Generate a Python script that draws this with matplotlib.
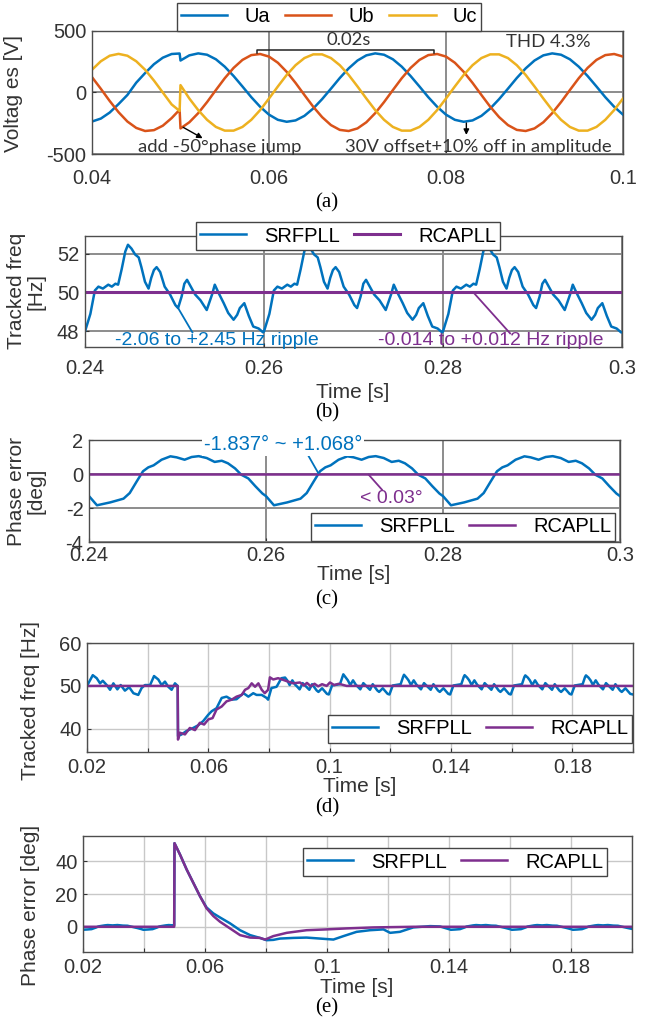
import numpy as np
import matplotlib
matplotlib.use('Agg')
import matplotlib.pyplot as plt

plt.rcParams['font.family'] = ['Liberation Sans', 'DejaVu Sans']

# ---------------------------------------------------------------- data
# (a) three phase voltages [V]
t_a = [0.040, 0.041, 0.042, 0.043, 0.044, 0.045, 0.046, 0.047, 0.048, 0.049, 0.0499,
       0.050, 0.051, 0.052, 0.053, 0.054, 0.055, 0.056, 0.057, 0.058, 0.059,
       0.060, 0.061, 0.062, 0.063, 0.064, 0.065, 0.066, 0.067, 0.068, 0.069,
       0.070, 0.071, 0.072, 0.073, 0.074, 0.075, 0.076, 0.077, 0.078, 0.079,
       0.080, 0.081, 0.082, 0.083, 0.084, 0.085, 0.086, 0.087, 0.088, 0.089,
       0.090, 0.091, 0.092, 0.093, 0.094, 0.095, 0.096, 0.097, 0.098, 0.099, 0.100]
ua = [-236, -212, -163, -94, -20, 80, 158, 230, 283, 313, 317,
      260, 302, 318, 307, 270, 210, 134, 49, -38, -116,
      -180, -222, -238, -227, -190, -130, -54, 31, 118, 196,
      260, 302, 318, 307, 270, 210, 134, 49, -38, -116,
      -180, -222, -238, -227, -190, -130, -54, 31, 118, 196,
      260, 302, 318, 307, 270, 210, 134, 49, -38, -116, -180]
ub = [125, 30, -69, -160, -236, -288, -313, -306, -270, -208, -140,
      -292, -242, -168, -78, 20, 116, 200, 265, 304, 313,
      292, 242, 168, 78, -20, -116, -200, -265, -304, -313,
      -292, -242, -168, -78, 20, 116, 200, 265, 304, 313,
      292, 242, 168, 78, -20, -116, -200, -265, -304, -313,
      -292, -242, -168, -78, 20, 116, 200, 265, 304, 313, 292]
uc = [185, 254, 299, 314, 299, 254, 185, 97, 0, -97, -150,
      60, -49, -143, -222, -280, -310, -310, -280, -222, -143,
      -49, 49, 143, 222, 280, 310, 310, 280, 222, 143,
      49, -49, -143, -222, -280, -310, -310, -280, -222, -143,
      -49, 49, 143, 222, 280, 310, 310, 280, 222, 143,
      49, -49, -143, -222, -280, -310, -310, -280, -222, -143, -49]

# (b) tracked frequency, steady state [Hz]
t_b = [0.2400, 0.2406, 0.2411, 0.2415, 0.2420, 0.2426, 0.2430, 0.2434, 0.2437, 0.2441, 0.2445,
       0.2448, 0.2452, 0.2456, 0.2460, 0.2463, 0.2467, 0.2471, 0.2474, 0.2477, 0.2480, 0.2484, 0.2489,
       0.2495, 0.2501, 0.2504, 0.2508, 0.2511, 0.2514, 0.2517, 0.2523, 0.2529, 0.2536, 0.2542, 0.2545,
       0.2549, 0.2555, 0.2560, 0.2566, 0.2570, 0.2573, 0.2578, 0.2583, 0.2588, 0.2594, 0.2599,
       0.2600, 0.2606, 0.2611, 0.2615, 0.2620, 0.2626, 0.2630, 0.2634, 0.2637, 0.2641, 0.2645,
       0.2648, 0.2652, 0.2656, 0.2660, 0.2663, 0.2667, 0.2671, 0.2674, 0.2677, 0.2680, 0.2684, 0.2689,
       0.2695, 0.2701, 0.2704, 0.2708, 0.2711, 0.2714, 0.2717, 0.2723, 0.2729, 0.2736, 0.2742, 0.2745,
       0.2749, 0.2755, 0.2760, 0.2766, 0.2770, 0.2773, 0.2778, 0.2783, 0.2788, 0.2794, 0.2799,
       0.2800, 0.2806, 0.2811, 0.2815, 0.2820, 0.2826, 0.2830, 0.2834, 0.2837, 0.2841, 0.2845,
       0.2848, 0.2852, 0.2856, 0.2860, 0.2863, 0.2867, 0.2871, 0.2874, 0.2877, 0.2880, 0.2884, 0.2889,
       0.2895, 0.2901, 0.2904, 0.2908, 0.2911, 0.2914, 0.2917, 0.2923, 0.2929, 0.2936, 0.2942, 0.2945,
       0.2949, 0.2955, 0.2960, 0.2966, 0.2970, 0.2973, 0.2978, 0.2983, 0.2988, 0.2994, 0.2999,
       0.3000]
srf_b = [48.00, 48.90, 50.10, 50.30, 50.20, 50.40, 50.30, 50.45, 50.40, 51.20, 52.10,
         52.45, 52.25, 51.95, 51.80, 51.30, 50.55, 50.20, 50.75, 51.15, 51.30, 51.05, 50.30,
         49.90, 49.35, 49.20, 49.80, 50.45, 50.65, 50.40, 49.90, 49.60, 49.10, 49.90, 50.40,
         50.00, 49.45, 48.95, 48.60, 48.85, 49.20, 49.45, 48.80, 48.25, 48.15, 47.95,
         48.00, 48.90, 50.10, 50.30, 50.20, 50.40, 50.30, 50.45, 50.40, 51.20, 52.10,
         52.45, 52.25, 51.95, 51.80, 51.30, 50.55, 50.20, 50.75, 51.15, 51.30, 51.05, 50.30,
         49.90, 49.35, 49.20, 49.80, 50.45, 50.65, 50.40, 49.90, 49.60, 49.10, 49.90, 50.40,
         50.00, 49.45, 48.95, 48.60, 48.85, 49.20, 49.45, 48.80, 48.25, 48.15, 47.95,
         48.00, 48.90, 50.10, 50.30, 50.20, 50.40, 50.30, 50.45, 50.40, 51.20, 52.10,
         52.45, 52.25, 51.95, 51.80, 51.30, 50.55, 50.20, 50.75, 51.15, 51.30, 51.05, 50.30,
         49.90, 49.35, 49.20, 49.80, 50.45, 50.65, 50.40, 49.90, 49.60, 49.10, 49.90, 50.40,
         50.00, 49.45, 48.95, 48.60, 48.85, 49.20, 49.45, 48.80, 48.25, 48.15, 47.95,
         47.95]
t_b_rca = [0.24, 0.30]
rca_b = [50.0, 50.0]

# (c) phase error, steady state [deg]
t_c = [0.2400, 0.2409, 0.2424, 0.2439, 0.2446, 0.2454, 0.2461, 0.2467, 0.2473, 0.2482, 0.2492, 0.2499,
       0.2508, 0.2516, 0.2524, 0.2533, 0.2542, 0.2550, 0.2557, 0.2565, 0.2572, 0.2580, 0.2588, 0.2596,
       0.2600, 0.2609, 0.2624, 0.2639, 0.2646, 0.2654, 0.2661, 0.2667, 0.2673, 0.2682, 0.2692, 0.2699,
       0.2708, 0.2716, 0.2724, 0.2733, 0.2742, 0.2750, 0.2757, 0.2765, 0.2772, 0.2780, 0.2788, 0.2796,
       0.2800, 0.2809, 0.2824, 0.2839, 0.2846, 0.2854, 0.2861, 0.2867, 0.2873, 0.2882, 0.2892, 0.2899,
       0.2908, 0.2916, 0.2924, 0.2933, 0.2942, 0.2950, 0.2957, 0.2965, 0.2972, 0.2980, 0.2988, 0.2996,
       0.3000]
srf_c = [-1.30, -1.84, -1.67, -1.45, -1.12, -0.43, 0.16, 0.39, 0.51, 0.84, 1.04, 0.98,
         0.84, 1.00, 1.05, 0.94, 0.71, 0.78, 0.63, 0.33, -0.04, -0.26, -0.72, -1.15,
         -1.30, -1.84, -1.67, -1.45, -1.12, -0.43, 0.16, 0.39, 0.51, 0.84, 1.04, 0.98,
         0.84, 1.00, 1.05, 0.94, 0.71, 0.78, 0.63, 0.33, -0.04, -0.26, -0.72, -1.15,
         -1.30, -1.84, -1.67, -1.45, -1.12, -0.43, 0.16, 0.39, 0.51, 0.84, 1.04, 0.98,
         0.84, 1.00, 1.05, 0.94, 0.71, 0.78, 0.63, 0.33, -0.04, -0.26, -0.72, -1.15,
         -1.30]
t_c_rca = [0.24, 0.30]
rca_c = [0.0, 0.0]

# (d) tracked frequency during the phase jump [Hz]
t_d = [0.0200, 0.0219, 0.0232, 0.0243, 0.0252, 0.0265, 0.0276, 0.0287, 0.0300, 0.0311, 0.0325,
       0.0339, 0.0353, 0.0369, 0.0380, 0.0391, 0.0408, 0.0421, 0.0435, 0.0446, 0.0457, 0.0468,
       0.0479, 0.0490, 0.0499,
       0.0500, 0.0512, 0.0528, 0.0550, 0.0566, 0.0583, 0.0600, 0.0611, 0.0627, 0.0644, 0.0660,
       0.0677, 0.0693, 0.0716, 0.0732, 0.0748, 0.0759, 0.0776, 0.0792, 0.0797, 0.0808, 0.0825,
       0.0841, 0.0853, 0.0860, 0.0868, 0.0877, 0.0886, 0.0892, 0.0901, 0.0911, 0.0926, 0.0933,
       0.0942, 0.0957, 0.0963, 0.0975, 0.0991,
       0.0997, 0.1008, 0.1017, 0.1027, 0.1034, 0.1042, 0.1045, 0.1053, 0.1060, 0.1068, 0.1077,
       0.1086, 0.1101, 0.1111, 0.1126, 0.1133, 0.1142, 0.1157, 0.1163, 0.1175, 0.1191,
       0.1197, 0.1208, 0.1217, 0.1227, 0.1234, 0.1242, 0.1245, 0.1253, 0.1260, 0.1268, 0.1277,
       0.1286, 0.1301, 0.1311, 0.1326, 0.1333, 0.1342, 0.1357, 0.1363, 0.1375, 0.1391,
       0.1397, 0.1408, 0.1417, 0.1427, 0.1434, 0.1442, 0.1445, 0.1453, 0.1460, 0.1468, 0.1477,
       0.1486, 0.1501, 0.1511, 0.1526, 0.1533, 0.1542, 0.1557, 0.1563, 0.1575, 0.1591,
       0.1597, 0.1608, 0.1617, 0.1627, 0.1634, 0.1642, 0.1645, 0.1653, 0.1660, 0.1668, 0.1677,
       0.1686, 0.1701, 0.1711, 0.1726, 0.1733, 0.1742, 0.1757, 0.1763, 0.1775, 0.1791,
       0.1797, 0.1808, 0.1817, 0.1827, 0.1834, 0.1842, 0.1845, 0.1853, 0.1860, 0.1868, 0.1877,
       0.1886, 0.1901, 0.1911, 0.1926, 0.1933, 0.1942, 0.1957, 0.1963, 0.1975, 0.1991, 0.2000]
srf_d = [50.0, 52.5, 51.8, 50.6, 51.2, 50.2, 49.1, 50.6, 49.2, 50.2, 48.9,
         49.7, 48.3, 47.9, 49.5, 50.2, 50.2, 52.3, 51.5, 50.2, 51.0, 49.8,
         49.1, 50.6, 50.0,
         38.3, 38.7, 39.5, 40.2, 40.8, 41.8, 43.3, 44.1, 44.8, 47.2, 47.5,
         46.8, 46.9, 48.3, 47.5, 48.3, 47.9, 47.9, 47.2, 46.8, 49.5, 49.8,
         51.8, 51.95, 51.3, 50.2, 51.3, 50.3, 49.9, 49.2, 50.65, 49.6, 49.1,
         50.4, 48.95, 48.6, 49.45, 48.15,
         48.0, 50.1, 50.2, 50.3, 50.4, 52.1, 52.7, 51.95, 51.3, 50.2, 51.3,
         50.3, 49.2, 50.65, 49.6, 49.1, 50.4, 48.95, 48.6, 49.45, 48.15,
         48.0, 50.1, 50.2, 50.3, 50.4, 52.1, 52.6, 51.95, 51.3, 50.2, 51.3,
         50.3, 49.2, 50.65, 49.6, 49.1, 50.4, 48.95, 48.6, 49.45, 48.15,
         48.0, 50.1, 50.2, 50.3, 50.4, 52.1, 52.5, 51.95, 51.3, 50.2, 51.3,
         50.3, 49.2, 50.65, 49.6, 49.1, 50.4, 48.95, 48.6, 49.45, 48.15,
         48.0, 50.1, 50.2, 50.3, 50.4, 52.1, 52.45, 51.95, 51.3, 50.2, 51.3,
         50.3, 49.2, 50.65, 49.6, 49.1, 50.4, 48.95, 48.6, 49.45, 48.15,
         48.0, 50.1, 50.2, 50.3, 50.4, 52.1, 52.45, 51.95, 51.3, 50.2, 51.3,
         50.3, 49.2, 50.65, 49.6, 49.1, 50.4, 48.95, 48.6, 49.45, 48.15, 48.0]
t_d_rca = [0.0200, 0.0499, 0.0500, 0.0506, 0.0523, 0.0539, 0.0556, 0.0572, 0.0586, 0.0600, 0.0614,
           0.0627, 0.0644, 0.0660, 0.0677, 0.0693, 0.0710, 0.0721, 0.0732, 0.0743, 0.0754, 0.0765,
           0.0776, 0.0786, 0.0797, 0.0803, 0.0814, 0.0830, 0.0847, 0.0863, 0.0880, 0.0902, 0.0915,
           0.0925, 0.0938, 0.0950, 0.0962, 0.0975, 0.0990, 0.1001, 0.1015, 0.1030, 0.1056, 0.1110,
           0.2000]
rca_d = [50.0, 50.0, 37.5, 39.1, 38.7, 40.2, 39.7, 41.4, 41.0, 42.2, 42.5,
         44.5, 45.2, 46.4, 46.8, 47.5, 47.9, 49.1, 49.5, 50.6, 49.8, 50.6,
         49.1, 48.3, 49.1, 52.0, 51.5, 51.8, 51.4, 51.0, 50.6, 50.8, 50.1,
         50.7, 49.9, 50.5, 49.9, 50.4, 50.0, 50.8, 50.2, 50.5, 50.0, 50.0,
         50.0]

# (e) phase error during the phase jump [deg]
t_e = [0.0200, 0.0213, 0.0228, 0.0243, 0.0250, 0.0256, 0.0271, 0.0281, 0.0297, 0.0313, 0.0331,
       0.0346, 0.0361, 0.0377, 0.0389, 0.0398, 0.0413, 0.0428, 0.0443, 0.0450, 0.0456, 0.0471,
       0.0481, 0.0497, 0.0499,
       0.0500, 0.0518, 0.0540, 0.0562, 0.0584, 0.0605, 0.0627, 0.0649, 0.0682, 0.0715, 0.0748,
       0.0780, 0.0802, 0.0824, 0.0846, 0.0890, 0.0933, 0.0977, 0.1021, 0.1054, 0.1097, 0.1141,
       0.1185, 0.1207, 0.1239, 0.1283, 0.1338, 0.1370,
       0.1397, 0.1406, 0.1421, 0.1436, 0.1451, 0.1458, 0.1479, 0.1489, 0.1505, 0.1521, 0.1539,
       0.1554, 0.1569, 0.1585,
       0.1597, 0.1606, 0.1621, 0.1636, 0.1651, 0.1658, 0.1679, 0.1689, 0.1705, 0.1721, 0.1739,
       0.1754, 0.1769, 0.1785,
       0.1797, 0.1806, 0.1821, 0.1836, 0.1851, 0.1858, 0.1879, 0.1889, 0.1905, 0.1921, 0.1939,
       0.1954, 0.1969, 0.1985, 0.2000]
srf_e = [-1.80, -1.67, -1.45, -0.43, 0.16, 0.39, 0.84, 1.04, 0.84, 1.05, 0.71,
         0.63, -0.04, -0.72, -1.30, -1.84, -1.67, -1.45, -0.43, 0.16, 0.39, 0.84,
         1.04, 0.84, 0.90,
         51.0, 44.1, 34.9, 26.7, 18.5, 11.8, 8.2, 5.7, 2.1, -2.1, -5.1,
         -6.8, -8.2, -8.0, -7.2, -6.8, -6.6, -7.2, -7.8, -5.7, -3.1, -2.1,
         -1.6, -3.7, -3.1, -0.4, 0.4, 0.2,
         -1.30, -1.84, -1.67, -1.45, -0.43, 0.16, 0.84, 1.04, 0.84, 1.05, 0.71,
         0.63, -0.04, -0.72,
         -1.30, -1.84, -1.67, -1.45, -0.43, 0.16, 0.84, 1.04, 0.84, 1.05, 0.71,
         0.63, -0.04, -0.72,
         -1.30, -1.84, -1.67, -1.45, -0.43, 0.16, 0.84, 1.04, 0.84, 1.05, 0.71,
         0.63, -0.04, -0.72, -1.30]
t_e_rca = [0.0200, 0.0499, 0.0500, 0.0518, 0.0540, 0.0562, 0.0584, 0.0605, 0.0627, 0.0649, 0.0682,
           0.0715, 0.0748, 0.0780, 0.0797, 0.0824, 0.0868, 0.0933, 0.0999, 0.1064, 0.1152, 0.1283,
           0.2000]
rca_e = [0.0, 0.0, 51.0, 44.1, 34.9, 26.7, 18.5, 11.3, 6.6, 3.1, -1.0,
         -5.1, -6.6, -6.8, -7.8, -5.7, -3.7, -2.1, -1.6, -1.0, -0.4, 0.0,
         0.0]

# ---------------------------------------------------------------- style
W, H = 645, 1021
BLUE = '#0072BD'
ORANGE = '#D95319'
YELLOW = '#EDB120'
PURPLE = '#7E2F8E'
TXT = '#333333'
LW = 1.8
FS_TICK = 14.5
FS_LAB = 15
FS_LEG = 14.5

fig = plt.figure(figsize=(W / 100, H / 100), dpi=100)


def place(left, right, top, bottom):
    # pixel box of the picture -> figure fraction
    return fig.add_axes([left / W, 1 - bottom / H, (right - left) / W, (bottom - top) / H])


def style(ax, grid_color, grid_lw, xpad=5):
    for sp in ax.spines.values():
        sp.set_color('#4d4d4d')
        sp.set_linewidth(1.0)
    ax.tick_params(direction='in', length=3, colors=TXT, labelsize=FS_TICK, pad=4)
    ax.tick_params(axis='x', pad=xpad)
    ax.grid(True, color=grid_color, lw=grid_lw)
    ax.set_axisbelow(True)


def ftext(x, y, s, **kw):
    fig.text(x / W, 1 - y / H, s, ha='center', va='center', **kw)


def legend(ax, cx, cy, ncol=2, hl=2.3, tp=0.9, cs=0.7):
    leg = ax.legend(loc='center', bbox_to_anchor=(cx / W, 1 - cy / H),
                    bbox_transform=fig.transFigure, ncol=ncol, fontsize=FS_LEG,
                    fancybox=False, framealpha=1, edgecolor='#444444',
                    handlelength=hl, handletextpad=tp, columnspacing=cs,
                    borderpad=0.2, borderaxespad=0)
    leg.get_frame().set_linewidth(1.0)
    return leg


# ---------------------------------------------------------------- (a)
axa = place(92, 623, 31, 154)
axa.plot(t_a, ua, color=BLUE, lw=LW, label='Ua')
axa.plot(t_a, ub, color=ORANGE, lw=LW, label='Ub')
axa.plot(t_a, uc, color=YELLOW, lw=LW, label='Uc')
axa.set_xlim(0.04, 0.1)
axa.set_ylim(-500, 500)
axa.set_xticks([0.04, 0.06, 0.08, 0.1], ['0.04', '0.06', '0.08', '0.1'])
axa.set_yticks([-500, 0, 500], ['-500', '0', '500'])
style(axa, '#8c8c8c', 1.4, xpad=11)
legend(axa, 329, 17, ncol=3, tp=0.85, cs=0.75)

ann = dict(family=['Lato', 'DejaVu Sans'], fontsize=13.3, color=TXT, ha='center', va='center')
axa.plot([0.0586, 0.0586, 0.0786, 0.0786], [318, 345, 345, 318], color='#222222', lw=1.1)
axa.text(0.0690, 425, '0.02s', **ann)
axa.text(0.0916, 410, 'THD 4.3%', **ann)
axa.text(0.0544, -440, 'add -50°phase jump', **ann)
axa.text(0.0837, -440, '30V offset+10% off in amplitude', **ann)
arr = dict(arrowstyle='-|>', color='black', lw=1.0, mutation_scale=8, shrinkA=0, shrinkB=0)
axa.annotate('', xy=(0.0525, -372), xytext=(0.0503, -283), arrowprops=arr)
axa.annotate('', xy=(0.0823, -345), xytext=(0.0823, -248), arrowprops=arr)
ftext(14, 93, 'Voltag es [V]', rotation=90, fontsize=FS_LAB, color=TXT)
ftext(327, 203, '(a)', family='Liberation Serif', fontsize=15)

# ---------------------------------------------------------------- (b)
axb = place(85, 622, 236, 347)
axb.plot(t_b, srf_b, color=BLUE, lw=LW, label='SRFPLL')
axb.plot(t_b_rca, rca_b, color=PURPLE, lw=LW + 0.4, label='RCAPLL')
axb.set_xlim(0.24, 0.3)
axb.set_ylim(47.2, 52.9)
axb.set_xticks([0.24, 0.26, 0.28, 0.3], ['0.24', '0.26', '0.28', '0.3'])
axb.set_yticks([48, 50, 52], ['48', '50', '52'])
style(axb, '#8c8c8c', 1.4, xpad=9)
legend(axb, 348, 236)
axb.plot([0.2503, 0.2520], [49.28, 47.95], color=BLUE, lw=1.3)
axb.plot([0.2834, 0.2875], [50.0, 47.9], color=PURPLE, lw=1.3)
axb.text(0.2547, 47.55, '-2.06 to +2.45 Hz ripple', color=BLUE, fontsize=14, ha='center', va='center')
axb.text(0.2853, 47.55, '-0.014 to +0.012 Hz ripple', color=PURPLE, fontsize=14, ha='center', va='center')
ftext(26, 291, 'Tracked freq\n[Hz]', rotation=90, fontsize=FS_LAB, color=TXT, linespacing=1.05)
ftext(353, 392, 'Time [s]', fontsize=FS_LAB, color=TXT)
ftext(327, 413, '(b)', family='Liberation Serif', fontsize=15)

# ---------------------------------------------------------------- (c)
axc = place(89, 620, 440, 542)
axc.plot(t_c, srf_c, color=BLUE, lw=LW, label='SRFPLL')
axc.plot(t_c_rca, rca_c, color=PURPLE, lw=LW, label='RCAPLL')
axc.set_xlim(0.24, 0.3)
axc.set_ylim(-4, 2)
axc.set_xticks([0.24, 0.26, 0.28, 0.3], ['0.24', '0.26', '0.28', '0.3'])
axc.set_yticks([-4, -2, 0, 2], ['-4', '-2', '0', '2'])
style(axc, '#8c8c8c', 1.4, xpad=3)
legend(axc, 463, 527)
axc.text(0.2619, 1.72, '-1.837° ~ +1.068°', color=BLUE, fontsize=14.5, ha='center', va='center',
         bbox=dict(facecolor='white', edgecolor='none', pad=1.5), zorder=4)
axc.plot([0.2644, 0.2659], [1.43, 0.06], color=BLUE, lw=1.3)
axc.plot([0.2716, 0.2731], [-0.04, -0.92], color=PURPLE, lw=1.3)
axc.text(0.2742, -1.45, '< 0.03°', color=PURPLE, fontsize=14, ha='center', va='center')
ftext(26, 491, 'Phase error\n[deg]', rotation=90, fontsize=FS_LAB, color=TXT, linespacing=1.05)
ftext(354, 574, 'Time [s]', fontsize=FS_LAB, color=TXT)
ftext(327, 600, '(c)', family='Liberation Serif', fontsize=15)

# ---------------------------------------------------------------- (d)
ticks_de = [0.02, 0.04, 0.06, 0.08, 0.1, 0.12, 0.14, 0.16, 0.18, 0.2]
labels_de = ['0.02', '', '0.06', '', '0.1', '', '0.14', '', '0.18', '']

axd = place(87, 633, 643, 752)
axd.plot(t_d, srf_d, color=BLUE, lw=LW, label='SRFPLL')
axd.plot(t_d_rca, rca_d, color=PURPLE, lw=LW, label='RCAPLL')
axd.set_xlim(0.02, 0.2)
axd.set_ylim(34.6, 60)
axd.set_xticks(ticks_de, labels_de)
axd.set_yticks([40, 50, 60], ['40', '50', '60'])
style(axd, '#c8c8c8', 1.0, xpad=4)
legend(axd, 480, 729)
ftext(31, 700, 'Tracked freq [Hz]', rotation=90, fontsize=FS_LAB, color=TXT)
ftext(360, 786, 'Time [s]', fontsize=FS_LAB, color=TXT)
ftext(327, 808, '(d)', family='Liberation Serif', fontsize=15)

# ---------------------------------------------------------------- (e)
axe = place(83, 632, 836, 952)
axe.plot(t_e, srf_e, color=BLUE, lw=LW, label='SRFPLL')
axe.plot(t_e_rca, rca_e, color=PURPLE, lw=LW, label='RCAPLL')
axe.set_xlim(0.02, 0.2)
axe.set_ylim(-15.4, 55.4)
axe.set_xticks(ticks_de, labels_de)
axe.set_yticks([0, 20, 40], ['0', '20', '40'])
style(axe, '#c8c8c8', 1.0, xpad=4)
legend(axe, 455, 862)
ftext(31, 905, 'Phase error [deg]', rotation=90, fontsize=FS_LAB, color=TXT)
ftext(357, 987, 'Time [s]', fontsize=FS_LAB, color=TXT)
ftext(327, 1008, '(e)', family='Liberation Serif', fontsize=15)

fig.savefig('out.png', dpi=100)
